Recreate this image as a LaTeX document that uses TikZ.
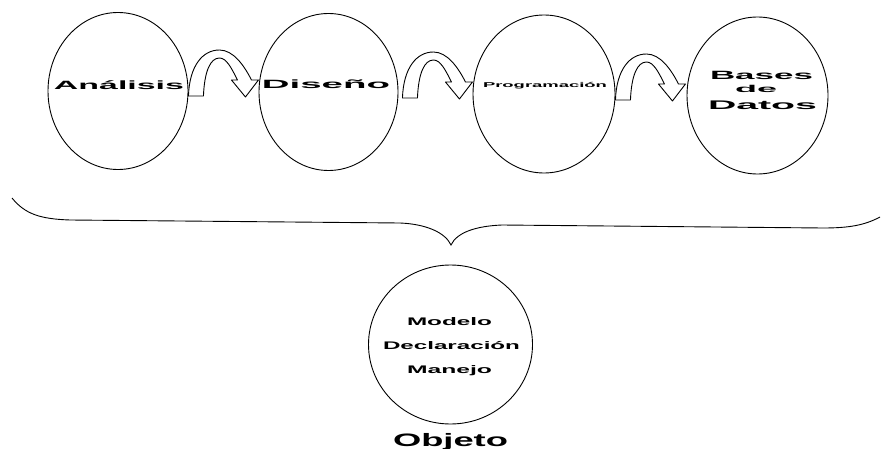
\documentclass[tikz,border=0pt]{standalone}
\usepackage{fontspec}
\setmainfont{Liberation Sans}
\usepackage{graphicx}
\usetikzlibrary{shapes.geometric,calc}
\newcommand{\wt}[3]{{\fontsize{#2}{#2}\selectfont\bfseries\resizebox{#1pt}{\height}{#3}}}
\begin{document}
\begin{tikzpicture}[x=1pt,y=-1pt,line width=0.9pt,
  bub/.style={draw,ellipse,inner sep=0pt},
  lbl/.style={anchor=base,inner sep=0pt},
  barrow/.pic={\draw[fill=white,line width=0.9pt,line join=round]
    (0,0) .. controls (1,-30) and (14,-46) .. (31,-46)
    .. controls (45,-46) and (56,-30) .. (63,-16)
    -- (70,-16) -- (57,1) -- (43,-16) -- (49,-16)
    .. controls (43,-28) and (38,-38) .. (31,-38)
    .. controls (22,-38) and (16,-25) .. (15,0) -- cycle;}]
\useasboundingbox (0,0) rectangle (882,449);
\node[bub,minimum width=140pt,minimum height=157pt] (e1) at (118,91) {};
\node[bub,minimum width=139pt,minimum height=157pt] (e2) at (328.5,92) {};
\node[bub,minimum width=142pt,minimum height=158pt] (e3) at (544,94) {};
\node[bub,minimum width=141pt,minimum height=157pt] (e4) at (757.5,95.5) {};
\node[bub,minimum width=164pt,minimum height=159pt] (e5) at (450.5,344.5) {};
\node[lbl] (t1) at (119,90) {\wt{130}{12}{Análisis}};
\node[lbl] (t2) at (326,89) {\wt{128}{12}{Diseño}};
\node[lbl] (t3) at (545,88) {\wt{124}{7}{Programación}};
\node[lbl] (t4a) at (761.5,80) {\wt{103}{12}{Bases}};
\node[lbl] (t4b) at (756,93) {\wt{42}{10}{de}};
\node[lbl] (t4c) at (762.5,110) {\wt{109}{12.5}{Datos}};
\node[lbl] (t5a) at (449.5,325) {\wt{85}{11}{Modelo}};
\node[lbl] (t5b) at (451.5,349) {\wt{137}{11}{Declaración}};
\node[lbl] (t5c) at (449.5,373) {\wt{85}{11}{Manejo}};
\node[lbl] (t6) at (450.5,446) {\wt{115}{18}{Objeto}};
\pic at ($(e1.east)+(0,5)$) {barrow};
\pic at ($(e2.east)+(4,6)$) {barrow};
\pic at ($(e3.east)+(0,6)$) {barrow};
\draw (12,198) .. controls (25,214) and (40,219) .. (70,220) -- (400,223)
  .. controls (425,224) and (445,232) .. (451,245)
  .. controls (457,232) and (477,226) .. (502,225) -- (823,228)
  .. controls (850,228) and (865,225) .. (880,217);
\end{tikzpicture}
\end{document}
